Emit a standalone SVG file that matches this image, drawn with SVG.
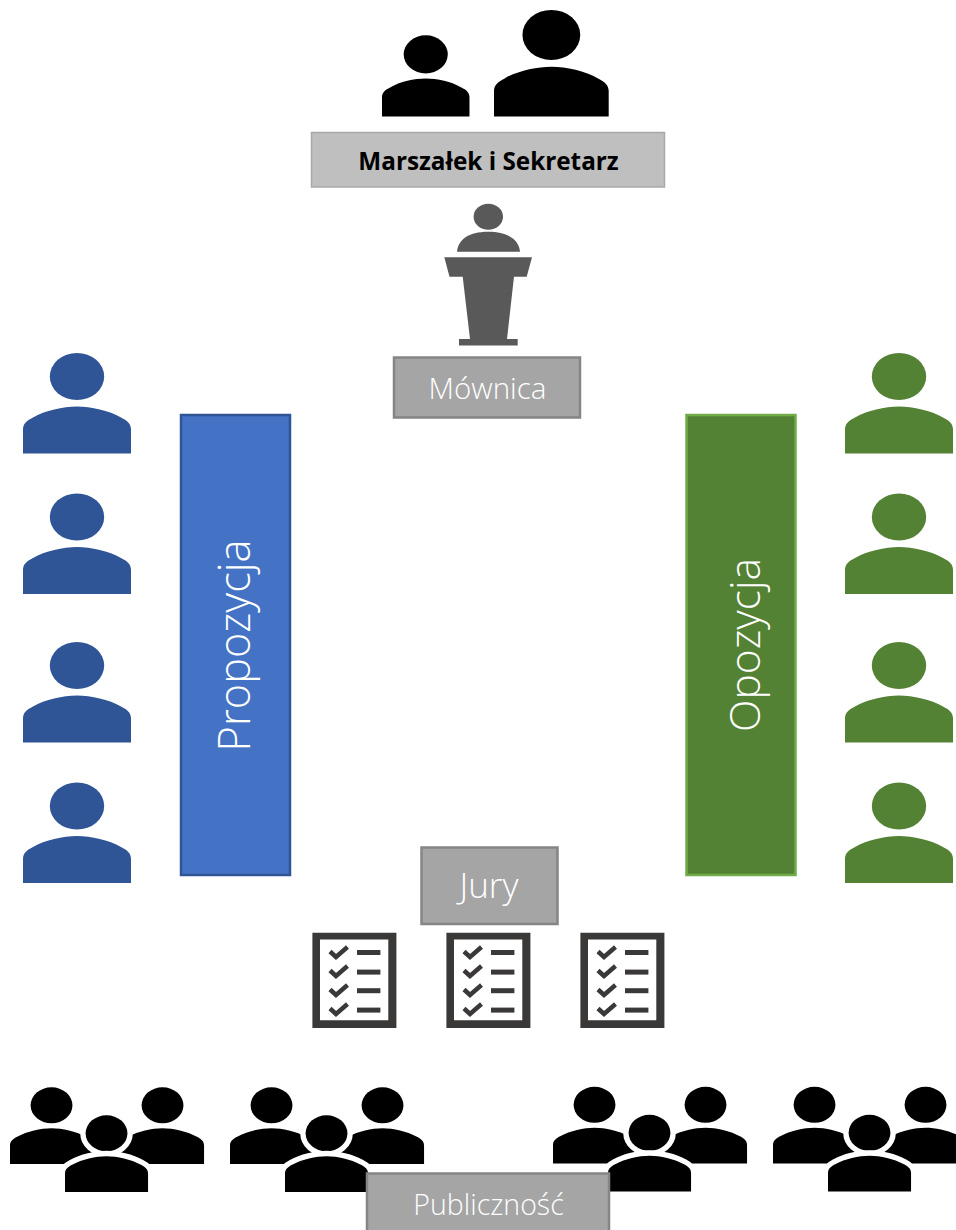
<svg xmlns="http://www.w3.org/2000/svg" xmlns:xlink="http://www.w3.org/1999/xlink" width="956" height="1230" viewBox="0 0 956 1230">
<style>
text{font-family:"Open Sans","Noto Sans","Liberation Sans",sans-serif;fill:#fff;text-anchor:middle}
.lt{font-weight:300}
.grey{fill:#a5a5a5;stroke:#858585;stroke-width:2.5}
.blue{fill:#2f5597}
.green{fill:#548235}
.blk{fill:#000}
.halo{fill:#000;stroke:#fff;stroke-width:14;paint-order:stroke}
.cl{fill:#3b3838}
.tick{fill:none;stroke:#3b3838;stroke-width:4.5}
</style>
<defs>
<g id="person"><ellipse cx="54" cy="24" rx="27.2" ry="23.6"/><path d="M0 101V77C0 71 4 68 10 65C22 58 40 54 54 54C68 54 86 58 98 65C104 68 108 71 108 77V101Z"/></g>
<g id="crowd">
<use href="#person" class="blk" transform="translate(10 1087) scale(.769 .762)"/>
<use href="#person" class="blk" transform="translate(121 1087) scale(.769 .762)"/>
<use href="#person" class="halo" transform="translate(65 1115) scale(.769 .762)"/>
</g>
<g id="checklist">
<path class="cl" fill-rule="evenodd" d="M312.4 932.7H396.4V1028H312.4ZM320 939.5V1020.3H388.3V939.5Z"/>
<rect class="cl" x="357" y="950" width="23.4" height="5"/>
<rect class="cl" x="357" y="969.6" width="23.4" height="5"/>
<rect class="cl" x="357" y="988.2" width="23.4" height="5"/>
<rect class="cl" x="357" y="1007.6" width="23.4" height="5"/>
<path class="tick" d="M330 951.5L336 957L347.5 947"/>
<path class="tick" d="M330 970.5L336 976L347.5 966"/>
<path class="tick" d="M330 989.5L336 995L347.5 985"/>
<path class="tick" d="M330 1008.5L336 1014L347.5 1004"/>
</g>
</defs>
<g id="connectors"/>
<g id="chair"><use href="#person" class="blk" transform="translate(382 35) scale(.81 .807)"/><use href="#person" class="blk" transform="translate(494 9.5) scale(1.062 1.06)"/></g>
<g id="marszalek"><rect x="311.5" y="132.5" width="353" height="54.5" fill="#bfbfbf" stroke="#a9a9a9" stroke-width="1.5"/><text x="488.5" y="170" font-size="24.3" font-weight="700" style="fill:#000">Marszałek i Sekretarz</text></g>
<g id="speaker" fill="#595959"><ellipse cx="488.3" cy="216.7" rx="14.7" ry="13"/><path d="M457 251.7C458 240 468 231.7 488.3 231.7C508 231.7 519 240 520 251.7Z"/><path d="M444.3 257.3H532L526.7 276.7H514L507 339H517.7V345.5H459V339H470L462.7 276.7H449.5Z"/></g>
<g id="mownica"><rect class="grey" x="394" y="357.5" width="186" height="60"/><text class="lt" x="487.5" y="398.5" font-size="29.5">Mównica</text></g>
<g id="propozycja"><rect x="181" y="415" width="109" height="460" fill="#4472c4" stroke="#2f5597" stroke-width="2.5"/><text class="lt" transform="translate(250 645.5) rotate(-90)" font-size="43.3">Propozycja</text></g>
<g id="opozycja"><rect x="686.5" y="415" width="109" height="460" fill="#548235" stroke="#70ad47" stroke-width="2.5"/><text class="lt" transform="translate(759.5 645) rotate(-90)" font-size="42.5">Opozycja</text></g>
<g id="propozycja-people" class="blue"><use href="#person" x="23" y="352.5"/><use href="#person" x="23" y="493"/><use href="#person" x="23" y="641.5"/><use href="#person" x="23" y="782"/></g>
<g id="opozycja-people" class="green"><use href="#person" x="845" y="352.5"/><use href="#person" x="845" y="493"/><use href="#person" x="845" y="641.5"/><use href="#person" x="845" y="782"/></g>
<g id="jury"><rect class="grey" x="421.5" y="847.5" width="136" height="76.5"/><text class="lt" x="489" y="898" font-size="35">Jury</text></g>
<g id="checklists"><use href="#checklist"/><use href="#checklist" x="134"/><use href="#checklist" x="268"/></g>
<g id="audience"><use href="#crowd"/><use href="#crowd" x="220"/><use href="#crowd" x="543" y="-.5"/><use href="#crowd" x="763" y="-.5"/></g>
<g id="publicznosc"><rect class="grey" x="367" y="1173.5" width="242" height="60"/><text class="lt" x="488.5" y="1215" font-size="28.5">Publiczność</text></g>
</svg>
